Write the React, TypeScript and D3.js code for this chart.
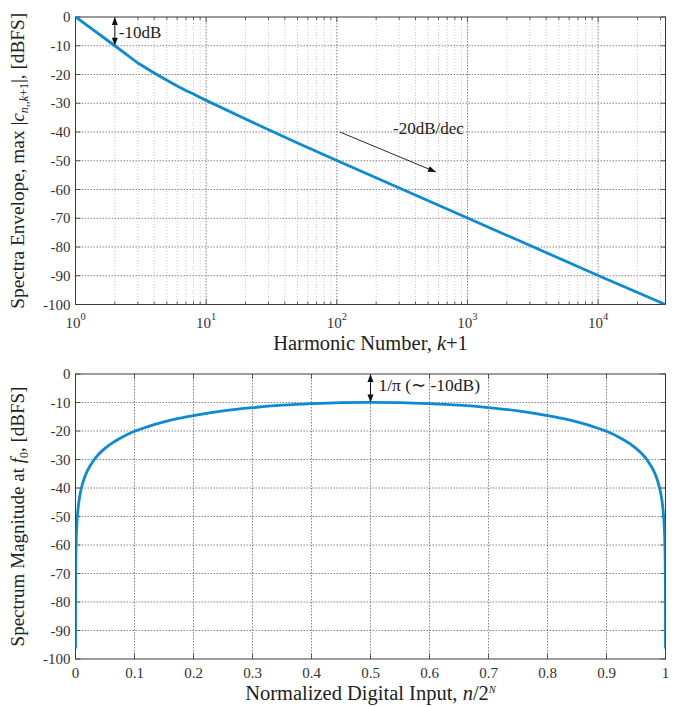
import React from 'react';
import * as d3 from 'd3';

// ---------- data ----------
const harmonicNumber = [1, 2, 3, 4, 5, 6, 7, 8, 9, 10, 20, 50, 100, 1000, 10000, 32768];
const envelopeDb = [0, -10, -16, -19.5, -22, -24, -25.6, -26.8, -28, -29, -35.5, -43.8, -49.9, -69.9, -89.9, -100];

const normInput = [
  0.0000153, 0.00003, 0.0001, 0.0003, 0.001, 0.002, 0.003, 0.005, 0.0075, 0.01, 0.015, 0.02, 0.03, 0.04, 0.05,
  0.06, 0.075, 0.1, 0.125, 0.15, 0.175, 0.2, 0.25, 0.3, 0.35, 0.4, 0.45, 0.5,
  0.55, 0.6, 0.65, 0.7, 0.75, 0.8, 0.825, 0.85, 0.875, 0.9, 0.925, 0.94, 0.95, 0.96, 0.97, 0.98, 0.985,
  0.99, 0.9925, 0.995, 0.997, 0.998, 0.999, 0.9997, 0.9999, 0.99997, 0.9999847,
];
const magnitudeDb = [
  -96.3, -90.4, -80, -70.4, -60, -54, -50.5, -46, -42.5, -40, -36.5, -34, -30.5, -28, -26.1,
  -24.5, -22.6, -20.1, -18.3, -16.8, -15.6, -14.6, -12.95, -11.8, -10.95, -10.4, -10.05, -9.94,
  -10.05, -10.4, -10.95, -11.8, -12.95, -14.6, -15.6, -16.8, -18.3, -20.1, -22.6, -24.5, -26.1, -28, -30.5, -34, -36.5,
  -40, -42.5, -46, -50.5, -54, -60, -70.4, -80, -90.4, -96.3,
];

const dbTicks = [0, -10, -20, -30, -40, -50, -60, -70, -80, -90, -100];
const dbTickLabels = ['0', '-10', '-20', '-30', '-40', '-50', '-60', '-70', '-80', '-90', '-100'];
const logMajorTicks = [1, 10, 100, 1000, 10000];
const logTickExponents = ['0', '1', '2', '3', '4'];
const logMinorMultipliers = [2, 3, 4, 5, 6, 7, 8, 9];
const linTicks = [0, 0.1, 0.2, 0.3, 0.4, 0.5, 0.6, 0.7, 0.8, 0.9, 1];
const linTickLabels = ['0', '0.1', '0.2', '0.3', '0.4', '0.5', '0.6', '0.7', '0.8', '0.9', '1'];

// ---------- layout ----------
const W = 685;
const H = 707;
const L = 75.5;
const R = 665.5;
const T1 = 17;
const B1 = 304.5;
const T2 = 374;
const B2 = 659;
const FONT = "'Liberation Serif', 'Times New Roman', Times, serif";
const LINE = '#0d8bd2';
const AXIS = '#3a3a3a';
const TEXT = '#333';
const GRID = '#666';
const MINOR = '#bdbdbd';
const TICK = 5;

const xLog = d3.scaleLog().domain([1, 32768]).range([L, R]);
const y1 = d3.scaleLinear().domain([-100, 0]).range([B1, T1]);
const xLin = d3.scaleLinear().domain([0, 1]).range([L, R]);
const y2 = d3.scaleLinear().domain([-100, 0]).range([B2, T2]);

const minorLog: number[] = [];
logMajorTicks.forEach((m) => {
  logMinorMultipliers.forEach((k) => {
    const v = m * k;
    if (v < 32768) minorLog.push(v);
  });
});

const topLine = d3
  .line<number>()
  .x((_, i) => xLog(harmonicNumber[i]))
  .y((d) => y1(d));

const bottomLine = d3
  .line<number>()
  .x((_, i) => xLin(normInput[i]))
  .y((d) => y2(d))
  .curve(d3.curveMonotoneX);

function Arrowhead({ x, y, angle }: { x: number; y: number; angle: number }) {
  const len = 8;
  const half = 3;
  const bx = x - len * Math.cos(angle);
  const by = y - len * Math.sin(angle);
  const px = -Math.sin(angle) * half;
  const py = Math.cos(angle) * half;
  return <polygon points={`${x},${y} ${bx + px},${by + py} ${bx - px},${by - py}`} fill="#111" />;
}

function DbGrid({ y }: { y: d3.ScaleLinear<number, number> }) {
  return (
    <g>
      {dbTicks.map((t, i) => (
        <g key={t}>
          {t !== 0 && t !== -100 && (
            <line x1={L} x2={R} y1={y(t)} y2={y(t)} stroke={GRID} strokeWidth={0.8} strokeDasharray="1.5,1.5" />
          )}
          <line x1={L} x2={L + TICK} y1={y(t)} y2={y(t)} stroke={AXIS} strokeWidth={0.8} />
          <line x1={R} x2={R - TICK} y1={y(t)} y2={y(t)} stroke={AXIS} strokeWidth={0.8} />
          <text x={L - 5} y={y(t) + 5} textAnchor="end" fontSize={15} fill={TEXT} fontFamily={FONT}>
            {dbTickLabels[i]}
          </text>
        </g>
      ))}
    </g>
  );
}

export default function App() {
  return (
    <svg
      width={W}
      height={H}
      viewBox={`0 0 ${W} ${H}`}
      style={{ position: 'absolute', left: 0, top: 0, background: '#fff' }}
    >
      <defs>
        <clipPath id="clipTop">
          <rect x={L} y={T1 - 2} width={R - L} height={B1 - T1 + 2} />
        </clipPath>
        <clipPath id="clipBottom">
          <rect x={L} y={T2} width={R - L} height={B2 - T2} />
        </clipPath>
      </defs>

      {/* ================= TOP CHART ================= */}
      <g>
        {minorLog.map((v) => (
          <g key={'m' + v}>
            <line x1={xLog(v)} x2={xLog(v)} y1={T1} y2={B1} stroke={MINOR} strokeWidth={0.8} strokeDasharray="1,2" />
            <line x1={xLog(v)} x2={xLog(v)} y1={B1} y2={B1 - 3} stroke={AXIS} strokeWidth={0.8} />
            <line x1={xLog(v)} x2={xLog(v)} y1={T1} y2={T1 + 3} stroke={AXIS} strokeWidth={0.8} />
          </g>
        ))}
        {logMajorTicks.map((v, i) => (
          <g key={'M' + v}>
            {i > 0 && (
              <line x1={xLog(v)} x2={xLog(v)} y1={T1} y2={B1} stroke={GRID} strokeWidth={0.8} strokeDasharray="1.5,1.5" />
            )}
            <line x1={xLog(v)} x2={xLog(v)} y1={B1} y2={B1 - TICK} stroke={AXIS} strokeWidth={0.8} />
            <line x1={xLog(v)} x2={xLog(v)} y1={T1} y2={T1 + TICK} stroke={AXIS} strokeWidth={0.8} />
            <text x={xLog(v)} y={B1 + 23} textAnchor="middle" fontSize={15} fill={TEXT} fontFamily={FONT}>
              10
              <tspan fontSize={10.5} dy={-8}>
                {logTickExponents[i]}
              </tspan>
            </text>
          </g>
        ))}
        <DbGrid y={y1} />
        <rect x={L} y={T1} width={R - L} height={B1 - T1} fill="none" stroke={AXIS} strokeWidth={1} />
        <path
          d={topLine(envelopeDb) || ''}
          fill="none"
          stroke={LINE}
          strokeWidth={2.8}
          strokeLinejoin="round"
          clipPath="url(#clipTop)"
        />

        {/* -10dB annotation */}
        <line x1={xLog(2)} x2={xLog(2)} y1={y1(0) + 4} y2={y1(-10) - 4} stroke="#111" strokeWidth={1} />
        <Arrowhead x={xLog(2)} y={y1(0)} angle={-Math.PI / 2} />
        <Arrowhead x={xLog(2)} y={y1(-10)} angle={Math.PI / 2} />
        <text x={xLog(2) + 4} y={38} fontSize={17} fill="#222" fontFamily={FONT}>
          -10dB
        </text>

        {/* -20dB/dec annotation */}
        <line x1={xLog(100) + 3} y1={y1(-40)} x2={436} y2={172} stroke="#111" strokeWidth={0.9} />
        <Arrowhead x={436} y={172} angle={Math.atan2(172 - y1(-40), 436 - xLog(100) - 3)} />
        <text x={393} y={134} fontSize={17} fill="#222" fontFamily={FONT}>
          -20dB/dec
        </text>

        <text x={(L + R) / 2} y={350} textAnchor="middle" fontSize={20.5} fill="#222" fontFamily={FONT}>
          Harmonic Number, <tspan fontStyle="italic">k</tspan>+1
        </text>
        <text
          transform={`translate(24,${(T1 + B1) / 2}) rotate(-90)`}
          textAnchor="middle"
          fontSize={19.3}
          fill="#222"
          fontFamily={FONT}
        >
          Spectra Envelope, max |<tspan fontStyle="italic">c</tspan>
          <tspan fontSize={12} dy={4} fontStyle="italic">n</tspan>
          <tspan fontSize={12}>,,</tspan>
          <tspan fontSize={12} fontStyle="italic">k</tspan>
          <tspan fontSize={12}>+1</tspan>
          <tspan dy={-4}>|, [dBFS]</tspan>
        </text>
      </g>

      {/* ================= BOTTOM CHART ================= */}
      <g>
        {linTicks.map((v, i) => (
          <g key={'l' + v}>
            {i > 0 && i < linTicks.length - 1 && (
              <line x1={xLin(v)} x2={xLin(v)} y1={T2} y2={B2} stroke={GRID} strokeWidth={0.8} strokeDasharray="1.5,1.5" />
            )}
            <line x1={xLin(v)} x2={xLin(v)} y1={B2} y2={B2 - TICK} stroke={AXIS} strokeWidth={0.8} />
            <line x1={xLin(v)} x2={xLin(v)} y1={T2} y2={T2 + TICK} stroke={AXIS} strokeWidth={0.8} />
            <text x={xLin(v)} y={B2 + 18.5} textAnchor="middle" fontSize={15} fill={TEXT} fontFamily={FONT}>
              {linTickLabels[i]}
            </text>
          </g>
        ))}
        <DbGrid y={y2} />
        <rect x={L} y={T2} width={R - L} height={B2 - T2} fill="none" stroke={AXIS} strokeWidth={1} />
        <path
          d={bottomLine(magnitudeDb) || ''}
          fill="none"
          stroke={LINE}
          strokeWidth={2.8}
          strokeLinejoin="round"
          clipPath="url(#clipBottom)"
        />

        {/* 1/pi annotation */}
        <line x1={xLin(0.5)} x2={xLin(0.5)} y1={y2(0) + 4} y2={y2(-10) - 4} stroke="#111" strokeWidth={1} />
        <Arrowhead x={xLin(0.5)} y={y2(0)} angle={-Math.PI / 2} />
        <Arrowhead x={xLin(0.5)} y={y2(-10)} angle={Math.PI / 2} />
        <text x={xLin(0.5) + 8} y={391} fontSize={17.5} fill="#222" fontFamily={FONT}>
          1/π (∼ -10dB)
        </text>

        <text x={(L + R) / 2} y={700} textAnchor="middle" fontSize={20.5} fill="#222" fontFamily={FONT}>
          Normalized Digital Input, <tspan fontStyle="italic">n</tspan>/2
          <tspan fontSize={10.5} dy={-7} fontStyle="italic">N</tspan>
        </text>
        <text
          transform={`translate(24,${(T2 + B2) / 2}) rotate(-90)`}
          textAnchor="middle"
          fontSize={19}
          fill="#222"
          fontFamily={FONT}
        >
          Spectrum Magnitude at <tspan fontStyle="italic">f</tspan>
          <tspan fontSize={12} dy={4}>0</tspan>
          <tspan dy={-4}>, [dBFS]</tspan>
        </text>
      </g>
    </svg>
  );
}
